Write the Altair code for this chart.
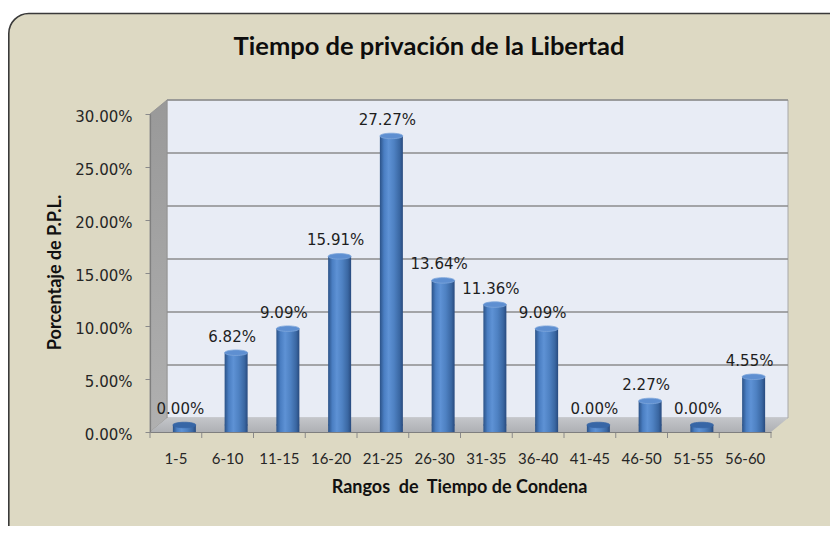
import altair as alt
import pandas as pd

# ---------------- data ----------------
categories = ["1-5", "6-10", "11-15", "16-20", "21-25", "26-30",
              "31-35", "36-40", "41-45", "46-50", "51-55", "56-60"]
shares = [0.0, 0.0682, 0.0909, 0.1591, 0.2727, 0.1364,
          0.1136, 0.0909, 0.0, 0.0227, 0.0, 0.0455]
y_ticks = [0.0, 0.05, 0.10, 0.15, 0.20, 0.25, 0.30]
grid_vals = [0.05, 0.10, 0.15, 0.20, 0.25, 0.30]

title_text = "Tiempo de privación de la Libertad"
x_title = "Rangos\u00a0 de\u00a0 Tiempo de Condena"
y_title = "Porcentaje de P.P.L."

# ---------------- geometry / style ----------------
W, H = 621, 318          # front plot frame
DX, DY = 17, 14          # 3-D depth offset (px)
YMAX = 0.30
dyd = DY * YMAX / H      # depth offset expressed in data units
HALF_BAND = W / len(categories) / 2

df = pd.DataFrame({"cat": categories, "val": shares})
one = pd.DataFrame({"a": [0]})
wall_df = pd.DataFrame({"lo": [0.0], "hi": [YMAX]})
grid_df = pd.DataFrame({"g": grid_vals})
side_df = pd.DataFrame({"px": [0, DX], "lo": [0.0, dyd], "hi": [YMAX, YMAX + dyd]})
floor_df = pd.DataFrame({"px": [0, DX, W, W + DX],
                         "lo": [0.0, 0.0, 0.0, dyd],
                         "hi": [0.0, dyd, dyd, dyd]})

yscale = alt.Scale(domain=[0, YMAX], nice=False, zero=True)

bar_grad = alt.Gradient(
    gradient="linear", x1=0, x2=1, y1=0, y2=0,
    stops=[alt.GradientStop(color="#2B5287", offset=0),
           alt.GradientStop(color="#4A7EC2", offset=0.18),
           alt.GradientStop(color="#5E92D5", offset=0.38),
           alt.GradientStop(color="#4E81C2", offset=0.62),
           alt.GradientStop(color="#3A67A2", offset=0.86),
           alt.GradientStop(color="#284A7E", offset=1)])
side_grad = alt.Gradient(
    gradient="linear", x1=0, x2=0, y1=0, y2=1,
    stops=[alt.GradientStop(color="#999999", offset=0),
           alt.GradientStop(color="#B0B0B0", offset=1)])
floor_grad = alt.Gradient(
    gradient="linear", x1=0, x2=0, y1=0, y2=1,
    stops=[alt.GradientStop(color="#C3C5C9", offset=0),
           alt.GradientStop(color="#AEB0B4", offset=1)])

ellipse = "M -1 0 A 1 0.24 0 1 1 1 0 A 1 0.24 0 1 1 -1 0 Z"

xaxis = alt.Axis(labelAngle=0, labelFont="Lato", labelFontSize=15,
                 labelColor="#262626", labelPadding=19, ticks=False,
                 domainColor="#7F7F7F", domainWidth=1.2, grid=False,
                 title=x_title, titleFont="Lato", titleFontSize=18, titleFontWeight="bold",
                 titleColor="#111111", titleX=309, titleY=55, titleAlign="center",
                 titleBaseline="middle", zindex=1)
yaxis = alt.Axis(values=y_ticks, format=".2%", labelFont="DejaVu Sans", labelFontSize=15,
                 labelColor="#262626", labelPadding=13, labelOffset=2, tickSize=5,
                 tickColor="#8A8A8A", domainColor="#7F7F7F", domainWidth=1.2, grid=False,
                 title=y_title, titleFont="Lato", titleFontSize=18, titleFontWeight="bold",
                 titleColor="#111111", titleX=-95, titleY=158, titleAngle=-90,
                 titleAlign="center", titleBaseline="middle", zindex=1)

xenc = alt.X("cat:N", sort=categories,
             scale=alt.Scale(paddingInner=0, paddingOuter=0), axis=xaxis)


def yenc(field):
    return alt.Y(field, scale=yscale, axis=yaxis, stack=None)


# ---------------- layers ----------------
panel = alt.Chart(one).mark_rect(cornerRadius=20, fill="#DDD9C3", stroke="#3A3A3A",
                                 strokeWidth=1.6).encode(
    x=alt.value(-141.2), x2=alt.value(W + 80), y=alt.value(-100.5), y2=alt.value(H + 140))

wall = alt.Chart(wall_df).mark_rect(fill="#E8ECF5", stroke="#A8A8A8", strokeWidth=1,
                                    yOffset=-DY, y2Offset=-DY).encode(
    x=alt.value(DX), x2=alt.value(W + DX), y=yenc("hi:Q"), y2="lo:Q")

grid = alt.Chart(grid_df).mark_rule(color="#8C8C8C", strokeWidth=1.5, yOffset=-DY).encode(
    x=alt.value(DX), x2=alt.value(W + DX), y=yenc("g:Q"))

side = alt.Chart(side_df).mark_area(color=side_grad, stroke="#8F8F8F", strokeWidth=0.8).encode(
    x=alt.X("px:Q", scale=None), y=yenc("hi:Q"), y2="lo:Q")

floor = alt.Chart(floor_df).mark_area(color=floor_grad).encode(
    x=alt.X("px:Q", scale=None), y=yenc("hi:Q"), y2="lo:Q")

xticks = alt.Chart(df).mark_rule(color="#8A8A8A", strokeWidth=1, xOffset=-HALF_BAND).encode(
    x=xenc, y=alt.value(H), y2=alt.value(H + 6))
xtick_end = alt.Chart(df).transform_filter(
    alt.datum.cat == categories[-1]).mark_rule(
    color="#8A8A8A", strokeWidth=1, xOffset=HALF_BAND).encode(
    x=xenc, y=alt.value(H), y2=alt.value(H + 6))

bottoms = alt.Chart(df).transform_filter("datum.val > 0").transform_calculate(
    zero="0").mark_point(
    shape=ellipse, size=529, filled=True, fill=bar_grad, opacity=1, strokeWidth=0,
    xOffset=DX / 2, yOffset=-DY / 2).encode(x=xenc, y=yenc("zero:Q"))

bars = alt.Chart(df).mark_bar(width=23, color=bar_grad, xOffset=DX / 2,
                              yOffset=-DY / 2, y2Offset=-DY / 2).encode(
    x=xenc, y=yenc("val:Q"))

tops = alt.Chart(df).mark_point(shape=ellipse, size=529, filled=True, opacity=1,
                                strokeWidth=0.8, xOffset=DX / 2, yOffset=-DY / 2).encode(
    x=xenc, y=yenc("val:Q"),
    fill=alt.condition("datum.val == 0", alt.value("#3766A6"), alt.value("#5E8FD1")),
    stroke=alt.condition("datum.val == 0", alt.value("#3766A6"), alt.value("#7EA6DB")))

labels = alt.Chart(df).mark_text(font="DejaVu Sans", fontSize=15, color="#1E1E1E",
                                 dx=DX / 2 - 4, dy=-DY / 2 - 16, baseline="middle").encode(
    x=xenc, y=yenc("val:Q"), text=alt.Text("val:Q", format=".2%"))

title = alt.Chart(one).mark_text(text=title_text, font="Lato", fontSize=25.5, fontWeight="bold",
                                 color="#0D0D0D", align="center", baseline="middle").encode(
    x=alt.value(279), y=alt.value(-67))

chart = alt.layer(panel, wall, grid, side, floor, xticks, xtick_end, bottoms, bars, tops,
                  labels, title).properties(
    width=W, height=H,
    padding={"left": 142, "top": 106, "right": 59, "bottom": 94},
    autosize=alt.AutoSizeParams(type="none"),
    background="white",
).configure_view(stroke=None)

chart.save("out.html", embed_options={"renderer": "svg", "actions": False})
